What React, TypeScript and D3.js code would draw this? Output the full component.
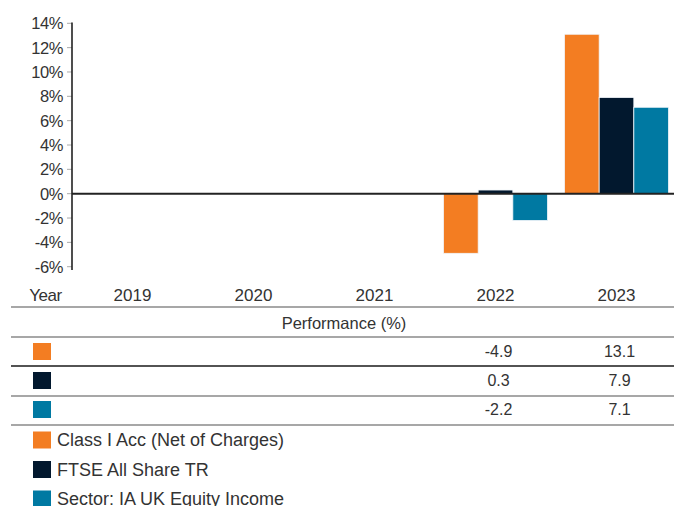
import React from "react";
import * as d3 from "d3";

const years = ["2019", "2020", "2021", "2022", "2023"];
const seriesNames = ["Class I Acc (Net of Charges)", "FTSE All Share TR", "Sector: IA UK Equity Income"];
const seriesColors = ["#F37D22", "#02182E", "#0079A2"];
const classI: (number | null)[] = [null, null, null, -4.9, 13.1];
const ftse: (number | null)[] = [null, null, null, 0.3, 7.9];
const sector: (number | null)[] = [null, null, null, -2.2, 7.1];
const yTicks = [14, 12, 10, 8, 6, 4, 2, 0, -2, -4, -6];
const tableYears = ["2022", "2023"];

const W = 674;
const H = 506;
const FONT = "'Liberation Sans', Arial, Helvetica, sans-serif";

export default function App() {
  const series = [classI, ftse, sector];
  const x0 = d3.scaleBand<string>().domain(years).range([72, 677]);
  const x1 = d3
    .scaleBand<number>()
    .domain([0, 1, 2])
    .range([8.5, 112.5]);
  const y = d3.scaleLinear().domain([-6, 14]).range([266.7, 23.3]);

  const rowY = [351.5, 380.5, 409.5];
  const rowLines = [
    { y: 307, c: "#8a8a8a" },
    { y: 337, c: "#8a8a8a" },
    { y: 366, c: "#1a1a1a" },
    { y: 396, c: "#8a8a8a" },
    { y: 425, c: "#8a8a8a" },
  ];
  const legendY = [440, 469.5, 499];

  return (
    <svg
      width={W}
      height={H}
      style={{ position: "fixed", left: 0, top: 0, background: "#fff" }}
      fontFamily={FONT}
    >
      <rect x={0} y={0} width={W} height={H} fill="#fff" />
      {/* y ticks */}
      {yTicks.map((t) => (
        <g key={t}>
          <line x1={67} x2={72} y1={y(t)} y2={y(t)} stroke="#aaa" strokeWidth={1} />
          <text
            x={63}
            y={y(t)}
            dy="0.36em"
            textAnchor="end"
            fontSize={16.5}
            fill="#333"
            letterSpacing={-0.4}
          >
            {t}%
          </text>
        </g>
      ))}
      <line x1={72} x2={72} y1={22.5} y2={270} stroke="#222" strokeWidth={1.6} />
      {/* bars */}
      {years.map((yr, i) => (
        <g key={yr} transform={`translate(${x0(yr)},0)`}>
          {series.map((s, k) => {
            const v = s[i];
            if (v === null) return null;
            const y1 = y(Math.max(0, v));
            const y2 = y(Math.min(0, v));
            return (
              <rect
                key={k}
                x={x1(k)}
                y={y1}
                width={x1.bandwidth()}
                height={y2 - y1}
                fill={seriesColors[k]}
                stroke="#f2f6fa"
                strokeWidth={0.8}
              />
            );
          })}
        </g>
      ))}
      <line x1={72} x2={W} y1={y(0)} y2={y(0)} stroke="#222" strokeWidth={2} />
      {/* x labels */}
      <text x={45.5} y={301} textAnchor="middle" fontSize={17} fill="#333" letterSpacing={-0.5}>
        Year
      </text>
      {years.map((yr) => (
        <text
          key={yr}
          x={(x0(yr) as number) + x0.bandwidth() / 2}
          y={301}
          textAnchor="middle"
          fontSize={17}
          fill="#333"
        >
          {yr}
        </text>
      ))}
      {/* table */}
      {rowLines.map((l, i) => (
        <line key={i} x1={11} x2={W} y1={l.y} y2={l.y} stroke={l.c} strokeWidth={1.4} />
      ))}
      <text x={344} y={329} textAnchor="middle" fontSize={16.5} fill="#333">
        Performance (%)
      </text>
      {series.map((s, k) => (
        <g key={k}>
          <rect x={33} y={rowY[k] - 8.5} width={18} height={17} fill={seriesColors[k]} />
          {tableYears.map((ty) => {
            const idx = years.indexOf(ty);
            const v = s[idx];
            const cx = (x0(ty) as number) + x0.bandwidth() / 2 + 3;
            return (
              <text
                key={ty}
                x={cx}
                y={rowY[k]}
                dy="0.36em"
                textAnchor="middle"
                fontSize={16}
                fill="#333"
              >
                {v === null ? "" : v.toFixed(1)}
              </text>
            );
          })}
        </g>
      ))}
      {/* legend */}
      {seriesNames.map((n, k) => (
        <g key={n}>
          <rect x={33} y={legendY[k] - 8.5} width={18} height={17} fill={seriesColors[k]} />
          <text x={57} y={legendY[k]} dy="0.36em" fontSize={18} fill="#333">
            {n}
          </text>
        </g>
      ))}
    </svg>
  );
}
